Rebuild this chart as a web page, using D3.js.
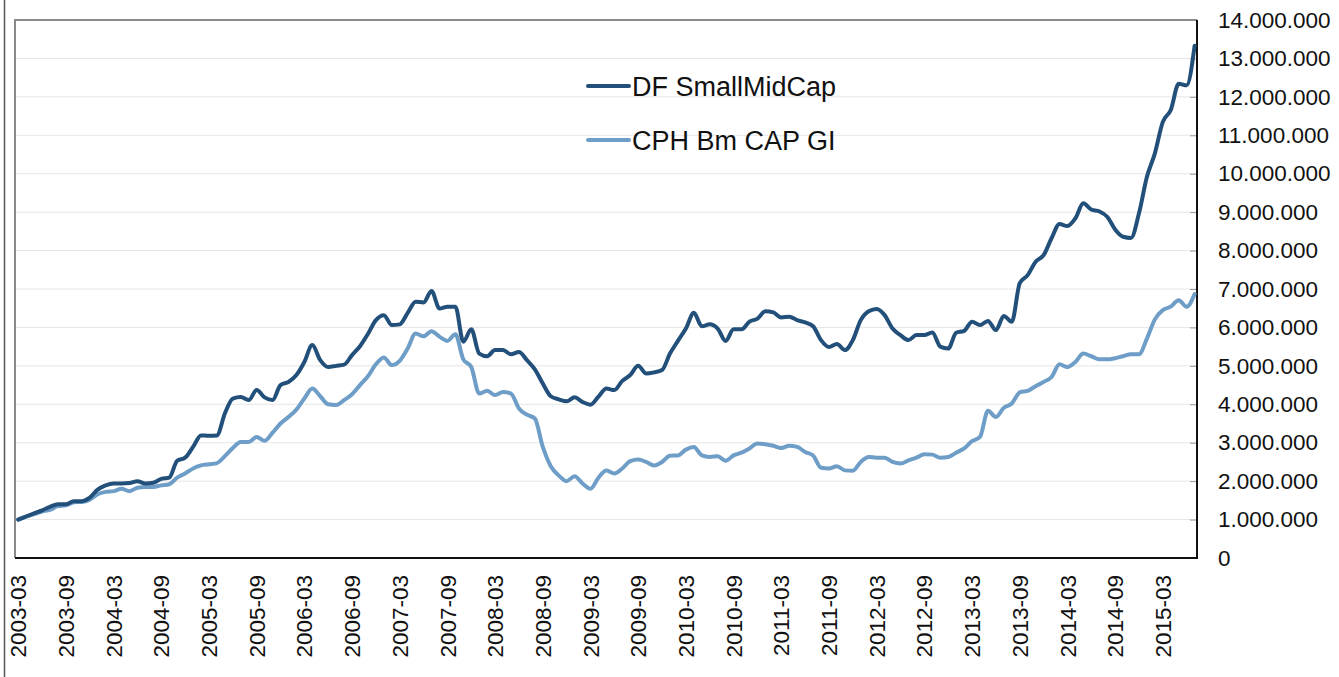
<!DOCTYPE html>
<html>
<head>
<meta charset="utf-8">
<script src="https://cdn.jsdelivr.net/npm/d3@7"></script>
<style>
  html, body { margin: 0; padding: 0; background: #fff; }
  svg { display: block; font-family: "Liberation Sans", Arial, Helvetica, sans-serif; }
</style>
</head>
<body>
<div id="chart"></div>
<script>
// Monthly observations, 2003-03 .. 2015-07
var startYear = 2003, startMonth = 3;

var dfSmallMidCap = [
  1.00, 1.08, 1.16, 1.24, 1.33, 1.40, 1.40, 1.48, 1.48, 1.57,
  1.78, 1.89, 1.94, 1.94, 1.95, 2.00, 1.94, 1.96, 2.06, 2.09,
  2.53, 2.61, 2.89, 3.19, 3.18, 3.19, 3.76, 4.15, 4.19, 4.11,
  4.37, 4.18, 4.11, 4.50, 4.58, 4.76, 5.10, 5.54, 5.15, 4.97,
  5.00, 5.03, 5.28, 5.51, 5.83, 6.19, 6.32, 6.06, 6.08, 6.38,
  6.67, 6.65, 6.95, 6.49, 6.54, 6.54, 5.63, 5.95, 5.32, 5.25,
  5.41, 5.41, 5.30, 5.36, 5.15, 4.91, 4.54, 4.21, 4.13, 4.08,
  4.18, 4.06, 3.99, 4.20, 4.41, 4.37, 4.61, 4.76, 5.00, 4.80,
  4.83, 4.89, 5.32, 5.65, 5.97, 6.38, 6.03, 6.08, 5.97, 5.65,
  5.95, 5.95, 6.15, 6.23, 6.42, 6.39, 6.26, 6.28, 6.19, 6.13,
  6.03, 5.67, 5.49, 5.57, 5.41, 5.67, 6.19, 6.42, 6.48, 6.32,
  5.97, 5.80, 5.67, 5.80, 5.80, 5.87, 5.50, 5.45, 5.86, 5.91,
  6.15, 6.06, 6.17, 5.93, 6.30, 6.15, 7.15, 7.36, 7.71, 7.88,
  8.32, 8.69, 8.64, 8.84, 9.23, 9.07, 9.02, 8.88, 8.55, 8.36,
  8.33, 8.97, 9.92, 10.53, 11.35, 11.66, 12.34, 12.30, 13.33
];

var cphBmCapGI = [
  1.00, 1.08, 1.14, 1.21, 1.25, 1.35, 1.37, 1.45, 1.46, 1.52,
  1.66, 1.72, 1.74, 1.80, 1.74, 1.83, 1.85, 1.85, 1.89, 1.92,
  2.09, 2.20, 2.33, 2.41, 2.44, 2.47, 2.65, 2.86, 3.02, 3.02,
  3.15, 3.05, 3.26, 3.50, 3.67, 3.86, 4.15, 4.41, 4.21, 4.00,
  3.98, 4.11, 4.26, 4.50, 4.73, 5.04, 5.22, 5.02, 5.13, 5.45,
  5.84, 5.77, 5.90, 5.76, 5.65, 5.82, 5.17, 4.97, 4.28, 4.35,
  4.24, 4.32, 4.28, 3.89, 3.73, 3.63, 2.89, 2.39, 2.15, 2.00,
  2.13, 1.94, 1.80, 2.09, 2.28, 2.20, 2.33, 2.52, 2.56, 2.50,
  2.41, 2.50, 2.66, 2.67, 2.82, 2.89, 2.67, 2.63, 2.65, 2.53,
  2.67, 2.74, 2.85, 2.98, 2.96, 2.92, 2.86, 2.92, 2.89, 2.76,
  2.67, 2.35, 2.33, 2.39, 2.28, 2.27, 2.50, 2.63, 2.61, 2.61,
  2.50, 2.46, 2.54, 2.61, 2.70, 2.69, 2.61, 2.63, 2.74, 2.85,
  3.04, 3.15, 3.83, 3.67, 3.91, 4.02, 4.31, 4.35, 4.47, 4.58,
  4.71, 5.04, 4.97, 5.10, 5.32, 5.25, 5.17, 5.17, 5.20, 5.25,
  5.30, 5.30, 5.71, 6.21, 6.45, 6.54, 6.71, 6.54, 6.87
];

var seriesNames = ['DF SmallMidCap', 'CPH Bm CAP GI'];
var seriesColors = ['#22507a', '#6e9ec7'];

var tickLabels = [
  '2003-03', '2003-09', '2004-03', '2004-09', '2005-03', '2005-09',
  '2006-03', '2006-09', '2007-03', '2007-09', '2008-03', '2008-09',
  '2009-03', '2009-09', '2010-03', '2010-09', '2011-03', '2011-09',
  '2012-03', '2012-09', '2013-03', '2013-09', '2014-03', '2014-09',
  '2015-03'
];

var yTicks = [0, 1, 2, 3, 4, 5, 6, 7, 8, 9, 10, 11, 12, 13, 14];

var width = 1339, height = 677;
var plot = { left: 15, right: 1197, top: 20, bottom: 558 };

// Month index of a "YYYY-MM" label.
function monthIndex(label) {
  var p = label.split('-');
  return (+p[0] - startYear) * 12 + (+p[1] - startMonth);
}

var svg = d3.select('#chart')
  .append('svg')
  .attr('width', width)
  .attr('height', height);

var x = d3.scaleLinear()
  .domain([-0.4, dfSmallMidCap.length - 1 + 0.3])
  .range([plot.left, plot.right]);

var y = d3.scaleLinear()
  .domain([0, 14000000])
  .range([plot.bottom, plot.top]);

// Outer left rule.
svg.append('line')
  .attr('x1', 4.5).attr('x2', 4.5)
  .attr('y1', 0).attr('y2', height)
  .attr('stroke', '#555').attr('stroke-width', 1.5);

// Gridlines.
svg.append('g')
  .selectAll('line')
  .data(yTicks.slice(1, -1))
  .enter()
  .append('line')
  .attr('x1', plot.left).attr('x2', plot.right)
  .attr('y1', function(d) { return y(d * 1e6); })
  .attr('y2', function(d) { return y(d * 1e6); })
  .attr('stroke', '#e6e6e6').attr('stroke-width', 1);

// Right axis.
var fmt = function(d) {
  return d === 0 ? '0' : d3.format(',')(d).replace(/,/g, '.');
};
var yAxis = d3.axisRight(y)
  .tickValues(yTicks.map(function(d) { return d * 1e6; }))
  .tickSize(0)
  .tickPadding(21)
  .tickFormat(fmt);
var gy = svg.append('g')
  .attr('transform', 'translate(' + plot.right + ',0)')
  .call(yAxis);
gy.select('.domain').remove();
gy.selectAll('text')
  .attr('font-family', '"Liberation Sans", Arial, sans-serif')
  .attr('font-size', 22.5)
  .attr('fill', '#111');
gy.selectAll('.tick').append('line')
  .attr('x1', -7).attr('x2', 0)
  .attr('stroke', '#999').attr('stroke-width', 1);

// Frame.
svg.append('path')
  .attr('d', 'M' + plot.left + ',' + plot.bottom + 'V' + plot.top + 'H' + plot.right)
  .attr('fill', 'none').attr('stroke', '#8a8a8a').attr('stroke-width', 2);
svg.append('path')
  .attr('d', 'M' + plot.left + ',' + plot.bottom + 'H' + plot.right + 'V' + plot.top)
  .attr('fill', 'none').attr('stroke', '#111').attr('stroke-width', 2);

// Bottom category labels.
svg.append('g')
  .selectAll('text')
  .data(tickLabels)
  .enter()
  .append('text')
  .attr('transform', function(d) {
    return 'translate(' + x(monthIndex(d)) + ',575) rotate(-90)';
  })
  .attr('dy', '0.36em')
  .attr('text-anchor', 'end')
  .attr('font-size', 22.5)
  .attr('fill', '#111')
  .text(function(d) { return d; });

// Lines.
var line = d3.line()
  .x(function(d, i) { return x(i); })
  .y(function(d) { return y(d * 1e6); })
  .curve(d3.curveMonotoneX);

[dfSmallMidCap, cphBmCapGI].forEach(function(s, k) {
  svg.append('path')
    .datum(s)
    .attr('fill', 'none')
    .attr('stroke', seriesColors[k])
    .attr('stroke-width', 4)
    .attr('stroke-linejoin', 'round')
    .attr('stroke-linecap', 'round')
    .attr('d', line);
});
// Keep dark series on top.
svg.selectAll('path').filter(function(d) { return d === dfSmallMidCap; }).raise();

// Legend.
var legend = svg.append('g')
  .selectAll('g')
  .data(seriesNames)
  .enter()
  .append('g')
  .attr('transform', function(d, i) { return 'translate(588,' + (86 + i * 54) + ')'; });
legend.append('line')
  .attr('x1', 0).attr('x2', 41)
  .attr('stroke', function(d, i) { return seriesColors[i]; })
  .attr('stroke-width', 4)
  .attr('stroke-linecap', 'round');
legend.append('text')
  .attr('x', 44)
  .attr('dy', '0.36em')
  .attr('font-size', 27)
  .attr('fill', '#111')
  .text(function(d) { return d; });
</script>
</body>
</html>
